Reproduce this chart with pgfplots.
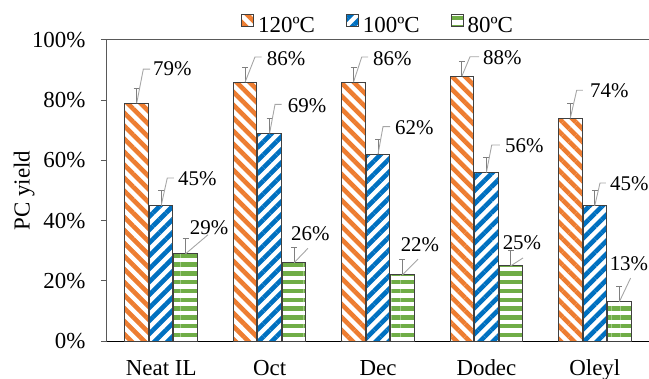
\documentclass[border=0pt]{standalone}
\usepackage{fontspec}
\setmainfont{Liberation Serif}
\usepackage{pgfplots}
\pgfplotsset{compat=1.18}
\usetikzlibrary{patterns.meta}
\definecolor{xorange}{HTML}{ED7D31}
\definecolor{xblue}{HTML}{0070C0}
\definecolor{xgreen}{HTML}{70AD47}
\definecolor{edgec}{HTML}{404040}
\definecolor{errc}{HTML}{7F7F7F}
\definecolor{leadc}{HTML}{A6A6A6}
\definecolor{axc}{HTML}{595959}
\newcommand\tfont{\fontsize{23}{27}\selectfont}
\newcommand\dfont{\fontsize{21}{25}\selectfont}
\begin{document}
\begin{tikzpicture}
\begin{axis}[
  name=ax, scale only axis, width=542bp, height=301bp,
  xmin=-0.5, xmax=4.5, ymin=0, ymax=100,
  clip=false,
  axis x line*=bottom, axis y line*=left,
  x axis line style={black, line width=1bp},
  y axis line style={axc, line width=1bp},
  xtick={0,1,2,3,4},
  xticklabels={Neat IL,Oct,Dec,Dodec,Oleyl},
  xtick style={draw=none},
  xticklabel style={font=\tfont, anchor=base, yshift=-28bp},
  ytick={0,20,40,60,80,100},
  yticklabels={0\%,20\%,40\%,60\%,80\%,100\%},
  yticklabel style={font=\tfont, xshift=-12bp},
  ytick style={axc, line width=1bp},
  tick align=outside, major tick length=6bp,
  extra y ticks={100}, extra y tick labels={},
  extra y tick style={grid=major, major grid style={axc, line width=1bp}},
  ylabel={PC yield},
  ylabel style={font=\tfont, at={(axis description cs:-0.153,0.5)}, anchor=center},
  legend columns=3,
  legend style={at={(axis description cs:0.502,1.05)}, anchor=center, draw=none, fill=none,
    font=\tfont, nodes={inner xsep=4bp},
    /tikz/every even column/.append style={column sep=27bp}},
  legend image code/.code={\draw[#1] (0bp,-0.5bp) rectangle (12bp,11.5bp);},
  error bars/y dir=plus, error bars/y explicit,
  error bars/error bar style={errc, line width=1bp},
  error bars/error mark options={rotate=90, mark size=3bp, errc, line width=1bp},
]
\addplot[ybar, bar width=0.217, bar shift=0, draw=edgec, line width=1bp,
  pattern={Lines[angle=-45,distance=9.2bp,line width=4.6bp]}, pattern color=xorange]
  coordinates {(-0.226,79) +- (0,5) (0.774,86) +- (0,5) (1.774,86) +- (0,5) (2.774,88) +- (0,5) (3.774,74) +- (0,5)};
\addlegendentry{120ºC}
\addplot[ybar, bar width=0.217, bar shift=0, draw=edgec, line width=1bp,
  pattern={Lines[angle=45,distance=9.2bp,line width=4.6bp]}, pattern color=xblue]
  coordinates {(0,45) +- (0,5) (1,69) +- (0,5) (2,62) +- (0,5) (3,56) +- (0,5) (4,45) +- (0,5)};
\addlegendentry{100ºC}
\addplot[ybar, bar width=0.217, bar shift=0, draw=edgec, line width=1bp,
  pattern={Lines[angle=0,distance=8.8bp,line width=4.4bp]}, pattern color=xgreen]
  coordinates {(0.226,29) +- (0,5) (1.226,26) +- (0,5) (2.226,22) +- (0,5) (3.226,25) +- (0,5) (4.226,13) +- (0,5)};
\addlegendentry{80ºC}
% leader lines
\addplot[leadc, line width=0.9bp, mark=none, unbounded coords=jump, forget plot] coordinates {
  (-0.226,79) (-0.165,90.3) (-0.103,90.3) (0,nan)
  (0.774,86) (0.865,94.35) (0.927,94.35) (0,nan)
  (1.774,86) (1.850,94.35) (1.908,94.35) (0,nan)
  (2.774,88) (2.849,94.45) (2.932,94.45) (0,nan)
  (3.774,74) (3.833,83.3) (3.891,83.3) (0,nan)
  (0,45) (0.056,54.15) (0.118,54.15) (0,nan)
  (1,69) (1.050,78.6) (1.112,78.6) (0,nan)
  (2,62) (2.046,71.2) (2.111,71.2) (0,nan)
  (3,56) (3.049,65.1) (3.125,65.1) (0,nan)
  (4,45) (4.048,52.5) (4.103,52.5) (0,nan)
  (0.226,29) (0.432,35.3) (0,nan)
  (1.226,26) (1.354,30.8) (0,nan)
  (2.226,22) (2.369,27.2) (0,nan)
  (3.226,25) (3.338,27.6) (0,nan)
  (4.226,13) (4.330,20.9)
};
% labels to the right
\addplot[draw=none, mark=none, forget plot, nodes near coords, point meta=explicit symbolic,
  nodes near coords style={anchor=west, font=\dfont, inner sep=0pt}] coordinates {
  (-0.076,90.4) [79\%]
  (0.973,93.7) [86\%]
  (1.954,93.7) [86\%]
  (2.969,94.0) [88\%]
  (3.956,83.0) [74\%]
  (0.155,53.8) [45\%]
  (1.167,78.2) [69\%]
  (2.157,70.8) [62\%]
  (3.172,64.8) [56\%]
  (4.140,52.2) [45\%]
};
% labels above
\addplot[draw=none, mark=none, forget plot, nodes near coords, point meta=explicit symbolic,
  nodes near coords style={anchor=center, font=\dfont, inner sep=0pt}] coordinates {
  (0.441,37.5) [29\%]
  (1.376,35.5) [26\%]
  (2.387,31.9) [22\%]
  (3.328,32.6) [25\%]
  (4.315,25.7) [13\%]
};
\end{axis}
\pgfresetboundingbox
\path[use as bounding box] ([xshift=-107bp,yshift=-38bp]ax.south west) rectangle ([yshift=40bp]ax.north east);
\end{tikzpicture}
\end{document}
